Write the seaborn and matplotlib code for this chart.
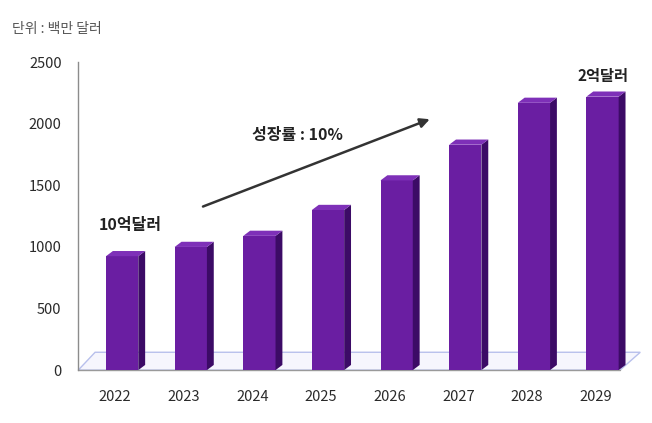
import matplotlib
matplotlib.use("Agg")
import matplotlib.pyplot as plt
import matplotlib.transforms as mtransforms
from matplotlib.patches import Polygon
import seaborn as sns
import pandas as pd

# Market size by year (million USD)
years = ["2022", "2023", "2024", "2025", "2026", "2027", "2028", "2029"]
market_size = [925, 1000, 1090, 1300, 1540, 1830, 2170, 2220]
y_ticks = [0, 500, 1000, 1500, 2000, 2500]

unit_label = "단위 : 백만 달러"
start_label = "10억달러"
end_label = "2억달러"
growth_label = "성장률 : 10%"

sns.set_theme(style="white")
plt.rcParams["font.family"] = ["Noto Sans CJK KR", "DejaVu Sans"]

fig = plt.figure(figsize=(6.52, 4.23), dpi=100)
ax = fig.add_axes([0.120, 0.125, 0.862, 0.728])

df = pd.DataFrame({"year": years, "size": market_size})
front = "#6a1ea2"
side = "#3c0b66"
top = "#7e30b8"
sns.barplot(data=df, x="year", y="size", color=front, saturation=1,
            width=0.47, linewidth=0, ax=ax, zorder=3)

ax.set_xlim(-0.64, 7.55)
ax.set_ylim(0, 2500)

# floor plane under the columns (axes-fraction coordinates)
floor = Polygon([(0, 0), (0.964, 0), (1.0, 0.058), (0.03, 0.058)],
                closed=True, transform=ax.transAxes, facecolor="#f6f6fd",
                edgecolor="#b8c0ec", lw=1.0, zorder=1, clip_on=False)
ax.add_patch(floor)
ax.plot([0, 0.964], [0, 0], transform=ax.transAxes, color="#9a9a9a",
        lw=1.0, zorder=2, clip_on=False)

# depth faces for each column
bars = [p for p in ax.patches if p is not floor]
dx, dy = 0.10, 42
for p in bars:
    x0, w, h = p.get_x(), p.get_width(), p.get_height()
    ax.add_patch(Polygon([(x0 + w, 0), (x0 + w + dx, dy), (x0 + w + dx, h + dy),
                          (x0 + w, h)], closed=True, facecolor=side,
                         edgecolor="none", zorder=3))
    ax.add_patch(Polygon([(x0, h), (x0 + dx, h + dy), (x0 + w + dx, h + dy),
                          (x0 + w, h)], closed=True, facecolor=top,
                         edgecolor="none", zorder=3))

# spines and ticks
for s in ["top", "right", "bottom"]:
    ax.spines[s].set_visible(False)
ax.spines["left"].set_color("#8c8c8c")
ax.spines["left"].set_linewidth(1.0)
ax.set_yticks(y_ticks)
ax.set_yticklabels([str(v) for v in y_ticks])
ax.tick_params(axis="y", length=0, pad=12, labelsize=10.5, labelcolor="#2a2a2a")
ax.tick_params(axis="x", length=0, pad=14, labelsize=10.5, labelcolor="#2a2a2a")
ax.set_xlabel("")
ax.set_ylabel("")
shift = mtransforms.ScaledTranslation(-5 / 72, 0, fig.dpi_scale_trans)
for lbl in ax.get_xticklabels():
    lbl.set_transform(lbl.get_transform() + shift)

# annotations
fig.text(0.018, 0.932, unit_label, fontsize=10, color="#555555",
         ha="left", va="center")
ax.text(0.12, 1180, start_label, fontsize=11.5, fontweight="bold",
        color="#222222", ha="center", va="center", zorder=5)
ax.text(7.0, 2390, end_label, fontsize=11, fontweight="bold",
        color="#222222", ha="center", va="center", zorder=5, clip_on=False)
ax.text(2.55, 1905, growth_label, fontsize=11.5, fontweight="bold",
        color="#222222", ha="center", va="center", zorder=5)
ax.annotate("", xy=(4.52, 2045), xytext=(1.14, 1320),
            arrowprops=dict(arrowstyle="-|>", color="#333333", lw=1.8,
                            mutation_scale=14), zorder=5)

fig.savefig("out.png", dpi=100, facecolor="white")
